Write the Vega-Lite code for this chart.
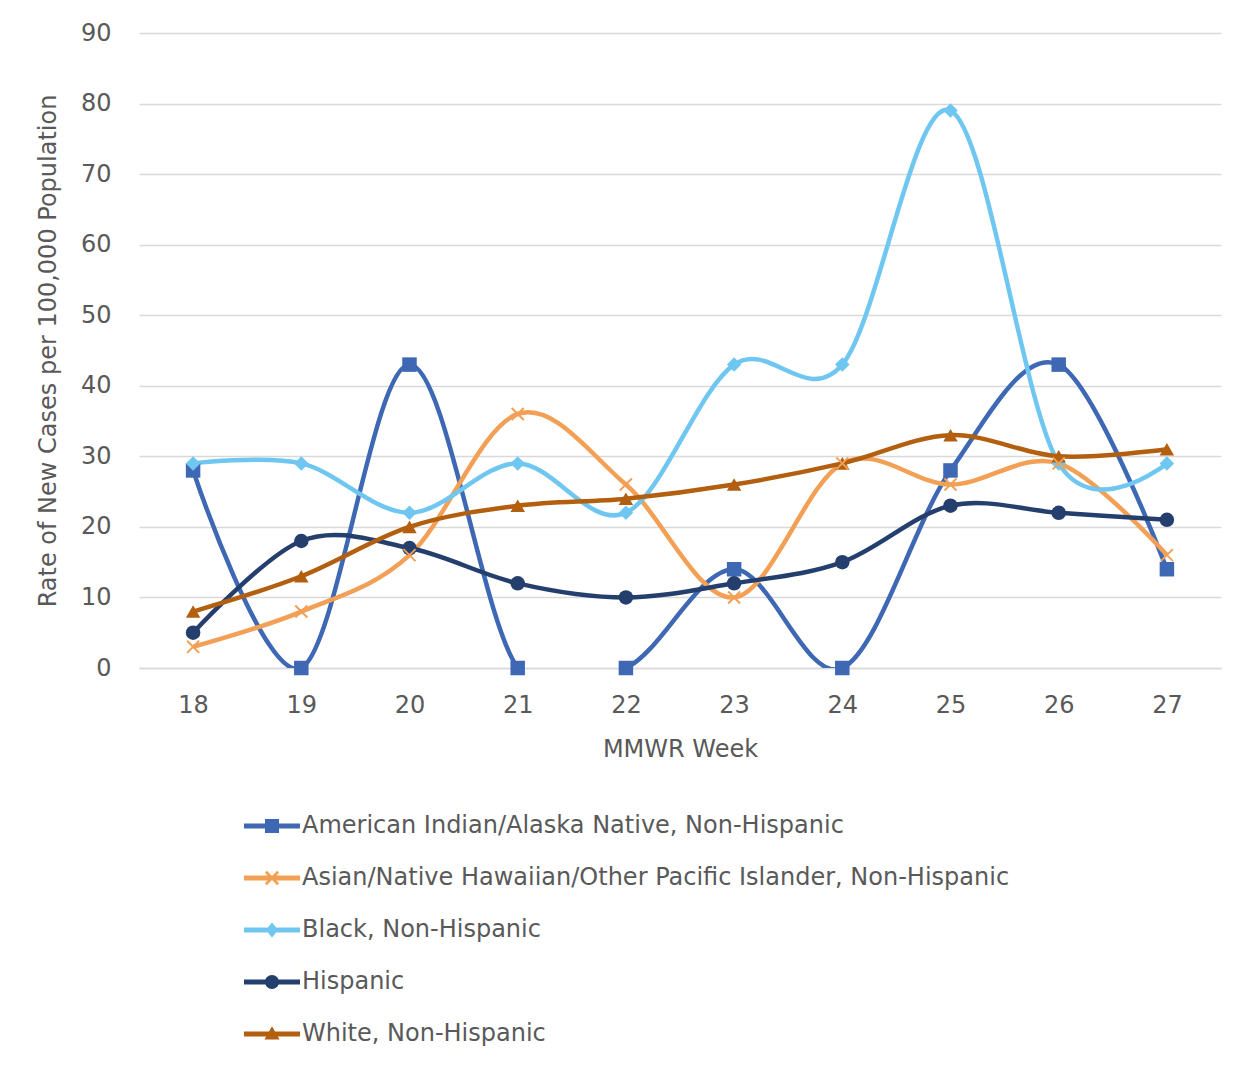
{
  "$schema": "https://vega.github.io/schema/vega-lite/v6.json",
  "width": 1082,
  "height": 635,
  "autosize": {"type": "none"},
  "padding": {"left": 139, "top": 33, "right": 29, "bottom": 404},
  "background": "white",
  "config": {
    "view": {"stroke": null},
    "font": "DejaVu Sans",
    "axis": {"labelColor": "#595959", "titleColor": "#595959", "labelFontSize": 24, "titleFontSize": 24, "titleFontWeight": "normal", "labelFont": "DejaVu Sans", "titleFont": "DejaVu Sans"}
  },
  "data": {
    "values": [
      {"week": 18, "group": "American Indian/Alaska Native, Non-Hispanic", "rate": 28},
      {"week": 19, "group": "American Indian/Alaska Native, Non-Hispanic", "rate": 0},
      {"week": 20, "group": "American Indian/Alaska Native, Non-Hispanic", "rate": 43},
      {"week": 21, "group": "American Indian/Alaska Native, Non-Hispanic", "rate": 0},
      {"week": 22, "group": "American Indian/Alaska Native, Non-Hispanic", "rate": 0},
      {"week": 23, "group": "American Indian/Alaska Native, Non-Hispanic", "rate": 14},
      {"week": 24, "group": "American Indian/Alaska Native, Non-Hispanic", "rate": 0},
      {"week": 25, "group": "American Indian/Alaska Native, Non-Hispanic", "rate": 28},
      {"week": 26, "group": "American Indian/Alaska Native, Non-Hispanic", "rate": 43},
      {"week": 27, "group": "American Indian/Alaska Native, Non-Hispanic", "rate": 14},
      {"week": 18, "group": "Asian/Native Hawaiian/Other Pacific Islander, Non-Hispanic", "rate": 3},
      {"week": 19, "group": "Asian/Native Hawaiian/Other Pacific Islander, Non-Hispanic", "rate": 8},
      {"week": 20, "group": "Asian/Native Hawaiian/Other Pacific Islander, Non-Hispanic", "rate": 16},
      {"week": 21, "group": "Asian/Native Hawaiian/Other Pacific Islander, Non-Hispanic", "rate": 36},
      {"week": 22, "group": "Asian/Native Hawaiian/Other Pacific Islander, Non-Hispanic", "rate": 26},
      {"week": 23, "group": "Asian/Native Hawaiian/Other Pacific Islander, Non-Hispanic", "rate": 10},
      {"week": 24, "group": "Asian/Native Hawaiian/Other Pacific Islander, Non-Hispanic", "rate": 29},
      {"week": 25, "group": "Asian/Native Hawaiian/Other Pacific Islander, Non-Hispanic", "rate": 26},
      {"week": 26, "group": "Asian/Native Hawaiian/Other Pacific Islander, Non-Hispanic", "rate": 29},
      {"week": 27, "group": "Asian/Native Hawaiian/Other Pacific Islander, Non-Hispanic", "rate": 16},
      {"week": 18, "group": "Black, Non-Hispanic", "rate": 29},
      {"week": 19, "group": "Black, Non-Hispanic", "rate": 29},
      {"week": 20, "group": "Black, Non-Hispanic", "rate": 22},
      {"week": 21, "group": "Black, Non-Hispanic", "rate": 29},
      {"week": 22, "group": "Black, Non-Hispanic", "rate": 22},
      {"week": 23, "group": "Black, Non-Hispanic", "rate": 43},
      {"week": 24, "group": "Black, Non-Hispanic", "rate": 43},
      {"week": 25, "group": "Black, Non-Hispanic", "rate": 79},
      {"week": 26, "group": "Black, Non-Hispanic", "rate": 29},
      {"week": 27, "group": "Black, Non-Hispanic", "rate": 29},
      {"week": 18, "group": "Hispanic", "rate": 5},
      {"week": 19, "group": "Hispanic", "rate": 18},
      {"week": 20, "group": "Hispanic", "rate": 17},
      {"week": 21, "group": "Hispanic", "rate": 12},
      {"week": 22, "group": "Hispanic", "rate": 10},
      {"week": 23, "group": "Hispanic", "rate": 12},
      {"week": 24, "group": "Hispanic", "rate": 15},
      {"week": 25, "group": "Hispanic", "rate": 23},
      {"week": 26, "group": "Hispanic", "rate": 22},
      {"week": 27, "group": "Hispanic", "rate": 21},
      {"week": 18, "group": "White, Non-Hispanic", "rate": 8},
      {"week": 19, "group": "White, Non-Hispanic", "rate": 13},
      {"week": 20, "group": "White, Non-Hispanic", "rate": 20},
      {"week": 21, "group": "White, Non-Hispanic", "rate": 23},
      {"week": 22, "group": "White, Non-Hispanic", "rate": 24},
      {"week": 23, "group": "White, Non-Hispanic", "rate": 26},
      {"week": 24, "group": "White, Non-Hispanic", "rate": 29},
      {"week": 25, "group": "White, Non-Hispanic", "rate": 33},
      {"week": 26, "group": "White, Non-Hispanic", "rate": 30},
      {"week": 27, "group": "White, Non-Hispanic", "rate": 31}
    ]
  },
  "encoding": {
    "x": {
      "field": "week", "type": "ordinal", "title": "MMWR Week",
      "scale": {"type": "point", "padding": 0.5},
      "axis": {"labelAngle": 0, "ticks": false, "domain": true, "domainColor": "#d9d9d9", "domainWidth": 1.5, "labelPadding": 25, "titlePadding": 20, "grid": false}
    },
    "y": {
      "field": "rate", "type": "quantitative", "title": "Rate of New Cases per 100,000 Population",
      "scale": {"domain": [0, 90], "nice": false},
      "axis": {"values": [0, 10, 20, 30, 40, 50, 60, 70, 80, 90], "ticks": false, "domain": false, "grid": true, "gridColor": "#d9d9d9", "gridWidth": 1.5, "labelPadding": 28, "titlePadding": 20}
    },
    "color": {
      "field": "group", "type": "nominal",
      "scale": {
        "domain": ["American Indian/Alaska Native, Non-Hispanic", "Asian/Native Hawaiian/Other Pacific Islander, Non-Hispanic", "Black, Non-Hispanic", "Hispanic", "White, Non-Hispanic"],
        "range": ["#3e68b4", "#f2a055", "#6fc7f1", "#243f6e", "#b35f10"]
      },
      "legend": {
        "orient": "none", "legendX": 105, "legendY": 765, "direction": "vertical",
        "title": null, "padding": 0, "labelFontSize": 24, "labelColor": "#595959", "labelFont": "DejaVu Sans", "labelLimit": 0,
        "symbolSize": 3136, "labelOffset": 2, "rowPadding": 12, "symbolStrokeWidth": 0,
        "encode": {
          "symbols": {
            "update": {
              "shape": {"signal": "datum.value == 'American Indian/Alaska Native, Non-Hispanic' ? 'M-1,-0.09L1,-0.09L1,0.09L-1,0.09ZM-0.25,-0.25L0.25,-0.25L0.25,0.25L-0.25,0.25Z' : datum.value == 'Asian/Native Hawaiian/Other Pacific Islander, Non-Hispanic' ? 'M-1,-0.09L1,-0.09L1,0.09L-1,0.09ZM-0.185,-0.255L0.255,0.185L0.185,0.255L-0.255,-0.185ZM-0.255,0.185L0.185,-0.255L0.255,-0.185L-0.185,0.255Z' : datum.value == 'Black, Non-Hispanic' ? 'M-1,-0.09L1,-0.09L1,0.09L-1,0.09ZM0,-0.27L0.22,0L0,0.27L-0.22,0Z' : datum.value == 'Hispanic' ? 'M-1,-0.09L1,-0.09L1,0.09L-1,0.09ZM-0.25,0A0.25,0.25,0,1,1,0.25,0A0.25,0.25,0,1,1,-0.25,0Z' : 'M-1,-0.09L1,-0.09L1,0.09L-1,0.09ZM0,-0.28L0.27,0.2L-0.27,0.2Z'"},
              "fill": {"scale": "color", "field": "value"},
              "strokeWidth": {"value": 0},
              "opacity": {"value": 1}
            }
          }
        }
      }
    }
  },
  "layer": [
    {
      "mark": {"type": "line", "interpolate": "cardinal", "tension": 0, "strokeWidth": 4.5, "clip": true}
    },
    {
      "transform": [{"filter": "datum.group != 'Asian/Native Hawaiian/Other Pacific Islander, Non-Hispanic'"}],
      "mark": {"type": "point", "filled": true, "size": 210, "opacity": 1},
      "encoding": {
        "shape": {
          "field": "group", "type": "nominal", "legend": null,
          "scale": {
            "domain": ["American Indian/Alaska Native, Non-Hispanic", "Black, Non-Hispanic", "Hispanic", "White, Non-Hispanic"],
            "range": ["square", "diamond", "circle", "triangle-up"]
          }
        }
      }
    },
    {
      "transform": [{"filter": "datum.group == 'Asian/Native Hawaiian/Other Pacific Islander, Non-Hispanic'"}],
      "mark": {"type": "point", "filled": false, "size": 200, "opacity": 1, "strokeWidth": 2, "shape": "M-0.85,-0.85L0.85,0.85M-0.85,0.85L0.85,-0.85"}
    }
  ]
}
